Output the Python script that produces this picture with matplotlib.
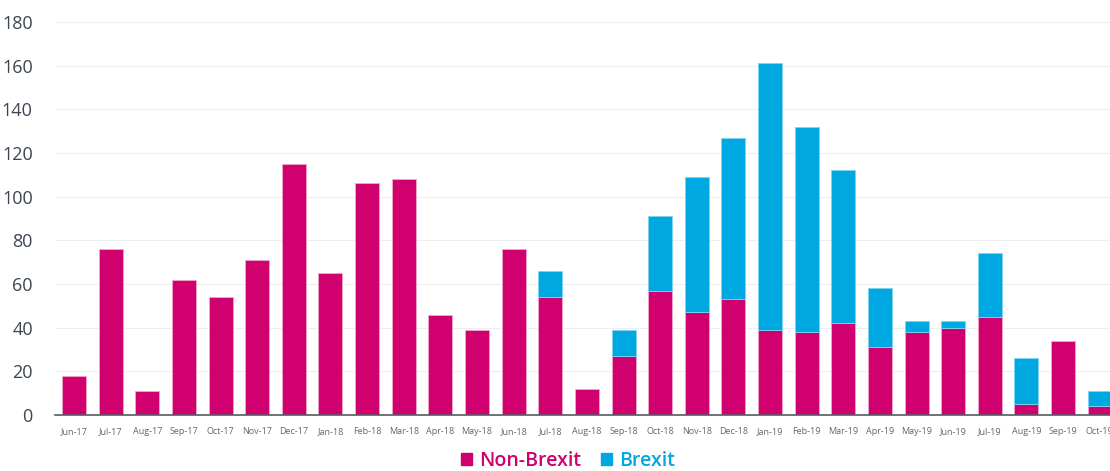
import numpy as np
import matplotlib.pyplot as plt
from matplotlib.patches import Patch

months = ["Jun-17", "Jul-17", "Aug-17", "Sep-17", "Oct-17", "Nov-17", "Dec-17",
          "Jan-18", "Feb-18", "Mar-18", "Apr-18", "May-18", "Jun-18", "Jul-18",
          "Aug-18", "Sep-18", "Oct-18", "Nov-18", "Dec-18", "Jan-19", "Feb-19",
          "Mar-19", "Apr-19", "May-19", "Jun-19", "Jul-19", "Aug-19", "Sep-19",
          "Oct-19"]
non_brexit = [18, 76, 11, 62, 54, 71, 115, 65, 106, 108, 46, 39, 76, 54,
              12, 27, 57, 47, 53, 39, 38, 42, 31, 38, 40, 45, 5, 34, 4]
brexit = [0, 0, 0, 0, 0, 0, 0, 0, 0, 0, 0, 0, 0, 12,
          0, 12, 34, 62, 74, 122, 94, 70, 27, 5, 3, 29, 21, 0, 7]

PINK = "#D0006F"
BLUE = "#00A8E1"

plt.rcParams['font.family'] = ['Open Sans', 'DejaVu Sans']

fig = plt.figure(figsize=(11.10, 4.71), dpi=100)
ax = fig.add_axes([55 / 1110, 56 / 471, 1055 / 1110, 415 / 471])

x = np.arange(len(months))
nb = np.array(non_brexit)
br = np.array(brexit)
ax.bar(x, nb, width=0.655, color=PINK, edgecolor="#f3a6cc", linewidth=0.6, zorder=2)
# only months with Brexit items get a stacked segment
has_br = br > 0
ax.bar(x[has_br], br[has_br], width=0.655, bottom=nb[has_br], color=BLUE,
       edgecolor="#7fd3f0", linewidth=0.6, zorder=2)

ax.set_xlim(-0.52, 28.28)
ax.set_ylim(0, 190)
ax.set_yticks(range(0, 181, 20))
ax.set_xticks(x)
ax.set_xticklabels(months, fontsize=6.5, color="#666666")
ax.tick_params(axis="x", length=0, pad=9)
ax.tick_params(axis="y", length=0, pad=16, labelsize=13, labelcolor="#3d4650")

ax.grid(axis="y", color="#eeeeee", linewidth=0.8, zorder=0)
for side in ["top", "right", "left"]:
    ax.spines[side].set_visible(False)
ax.spines["bottom"].set_color("#555b60")
ax.spines["bottom"].set_linewidth(1.2)
ax.spines["bottom"].set_zorder(3)

handles = [Patch(color=PINK), Patch(color=BLUE)]
fig.legend(handles, ["Non-Brexit", "Brexit"], loc="center", bbox_to_anchor=(568 / 1110, 10 / 471),
           ncol=2, frameon=False, prop={"size": 14, "weight": "semibold"},
           labelcolor=[PINK, BLUE],
           handlelength=0.6, handleheight=0.6, handletextpad=0.35, columnspacing=1.0)

fig.savefig("out.png", dpi=100)
